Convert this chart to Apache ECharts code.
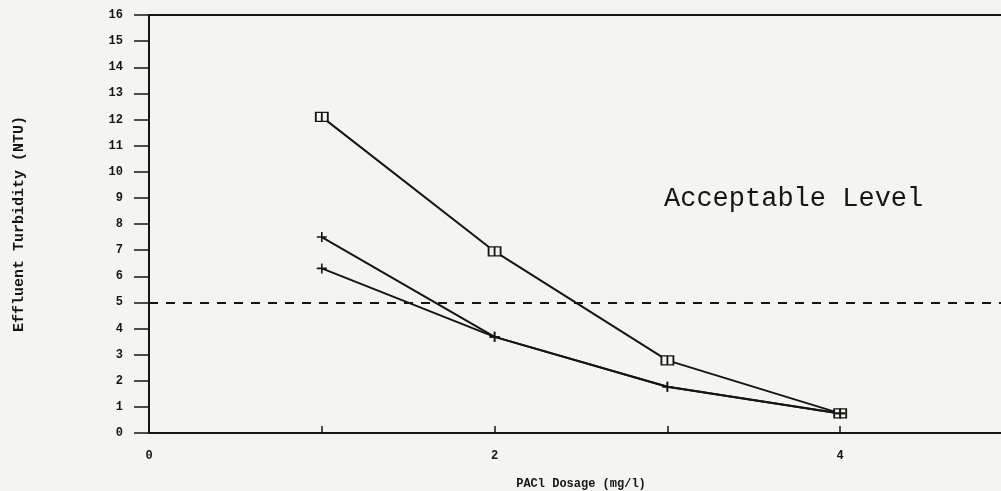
<!DOCTYPE html>
<html>
<head>
<meta charset="utf-8">
<script src="https://cdn.jsdelivr.net/npm/echarts@6/dist/echarts.min.js"></script>
<style>
  html, body { margin: 0; padding: 0; background: #f4f4f1; }
  #chart { width: 1001px; height: 491px; }
</style>
</head>
<body>
<div id="chart"></div>
<script>
// PACl dosage (mg/l) tested
const dosage = [1, 2, 3, 4];
// Effluent turbidity (NTU) for each run
const runSquare = [12.1, 6.95, 2.78, 0.75];
const runPlusHigh = [7.5, 3.68, 1.77, 0.75];
const runPlusLow = [6.3, 3.68, 1.77, 0.75];
// Turbidity limit
const acceptableLevel = 5;
const yTicks = [0, 16, 1];
const xTicks = [0, 5, 1];

const ink = '#151515';
const paper = '#f4f4f1';
const monoBold = { fontFamily: 'Liberation Mono', fontWeight: 'bold', color: ink };

const pair = (xs, ys) => xs.map((x, i) => [x, ys[i]]);

const squareSym = 'path://M0,0H12V9H0ZM6,0V9';
const plusSym = 'path://M0,5H10M5,0V10';

const lineSeries = (name, ys, symbol, size, fill) => ({
  name,
  type: 'line',
  data: pair(dosage, ys),
  symbol,
  symbolSize: size,
  showAllSymbol: true,
  lineStyle: { color: ink, width: 2 },
  itemStyle: { color: fill, borderColor: ink, borderWidth: 1.6 },
  z: 3
});

const chart = echarts.init(document.getElementById('chart'));
chart.setOption({
  backgroundColor: paper,
  animation: false,
  grid: {
    left: 149, right: -12, top: 15, bottom: 58,
    outerBoundsMode: 'none',
    containLabel: false,
    show: true, borderColor: ink, borderWidth: 2, backgroundColor: 'transparent'
  },
  xAxis: {
    type: 'value',
    min: xTicks[0], max: xTicks[1], interval: xTicks[2],
    name: 'PACl Dosage (mg/l)',
    nameLocation: 'middle',
    nameGap: 45,
    nameTextStyle: Object.assign({ fontSize: 12 }, monoBold),
    axisLine: { lineStyle: { color: ink, width: 2 } },
    axisTick: { inside: true, length: 7, lineStyle: { color: ink, width: 1.5 } },
    axisLabel: {
      margin: 17, fontSize: 12, ...monoBold,
      formatter: v => (v % 2 === 0 && v < xTicks[1] ? String(v) : '')
    },
    splitLine: { show: false }
  },
  yAxis: {
    type: 'value',
    min: yTicks[0], max: yTicks[1], interval: yTicks[2],
    name: 'Effluent Turbidity (NTU)',
    nameLocation: 'middle',
    nameGap: 122,
    nameTextStyle: Object.assign({ fontSize: 15 }, monoBold),
    axisLine: { lineStyle: { color: ink, width: 2 } },
    axisTick: { length: 15, lineStyle: { color: ink, width: 1.5 } },
    axisLabel: { margin: 26, fontSize: 12, ...monoBold },
    splitLine: { show: false }
  },
  graphic: [{
    type: 'text',
    left: 664,
    top: 185,
    style: {
      text: 'Acceptable Level',
      font: '27px "Liberation Mono"',
      fill: ink
    }
  }],
  series: [
    Object.assign(lineSeries('square', runSquare, squareSym, [12, 9], paper), {
      markLine: {
        silent: true,
        symbol: ['none', 'none'],
        label: { show: false },
        lineStyle: { color: ink, width: 2, type: [9, 8] },
        data: [{ yAxis: acceptableLevel }]
      }
    }),
    lineSeries('plusHigh', runPlusHigh, plusSym, 10, 'none'),
    lineSeries('plusLow', runPlusLow, plusSym, 10, 'none')
  ]
});
</script>
</body>
</html>
